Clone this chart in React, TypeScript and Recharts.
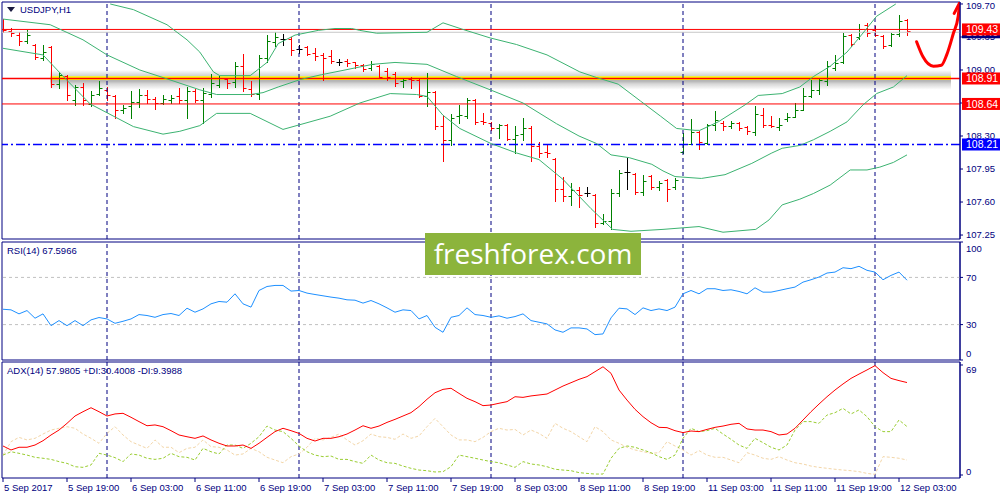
import React from 'react'
import {
  ComposedChart,
  LineChart,
  Line,
  Bar,
  XAxis,
  YAxis,
  ReferenceLine,
  ReferenceArea,
} from 'recharts'

const NAVY = '#000080'
const RED = '#ff0000'
const GREEN = '#008000'
const BAND = '#3cb371'
const FONT = '"Liberation Sans", Arial, sans-serif'

// one bar = 8px, bar 0 sits at x=3
const X_DOMAIN: [number, number] = [-0.125, 119.625]
const PRICE_DOMAIN: [number, number] = [107.208, 109.721]
const ADX_DOMAIN: [number, number] = [-1.88, 70.88]

const timeTicks = [0, 8, 16, 24, 32, 40, 48, 56, 64, 72, 80, 88, 96, 104, 112]
const timeLabels = [
  '5 Sep 2017', '5 Sep 19:00', '6 Sep 03:00', '6 Sep 11:00', '6 Sep 19:00',
  '7 Sep 03:00', '7 Sep 11:00', '7 Sep 19:00', '8 Sep 03:00', '8 Sep 11:00',
  '8 Sep 19:00', '11 Sep 03:00', '11 Sep 11:00', '11 Sep 19:00', '12 Sep 03:00',
]
const daySeparators = [13, 37, 61, 85, 109]
const priceTicks = [107.25, 107.6, 107.95, 108.3, 108.65, 109.0, 109.35, 109.7]
const rsiTicks = [0, 30, 70, 100]
const adxTicks = [0, 69]

// horizontal levels drawn on the chart, with their tags on the price scale
const bidPrice = 109.4
const levelPrices = [109.43, 108.91, 108.64]
const supportPrice = 108.21

// USDJPY H1 bars: [open, high, low, close]
const bars: [number, number, number, number][] = [
  [109.43, 109.54, 109.40, 109.42], [109.41, 109.45, 109.36, 109.39], [109.37, 109.40, 109.26, 109.31],
  [109.31, 109.42, 109.29, 109.37], [109.27, 109.28, 109.12, 109.14], [109.13, 109.26, 109.11, 109.19],
  [109.24, 109.25, 108.82, 108.85], [108.85, 108.98, 108.81, 108.95], [108.94, 108.95, 108.68, 108.74],
  [108.68, 108.84, 108.63, 108.82], [108.82, 108.86, 108.63, 108.68], [108.64, 108.78, 108.62, 108.74],
  [108.75, 108.88, 108.74, 108.81], [108.79, 108.82, 108.68, 108.73], [108.72, 108.74, 108.49, 108.58],
  [108.58, 108.63, 108.54, 108.60], [108.62, 108.78, 108.49, 108.66], [108.66, 108.80, 108.61, 108.74],
  [108.74, 108.79, 108.65, 108.69], [108.69, 108.71, 108.59, 108.65], [108.65, 108.73, 108.64, 108.69],
  [108.68, 108.73, 108.65, 108.70], [108.72, 108.81, 108.65, 108.68], [108.68, 108.82, 108.49, 108.78],
  [108.78, 108.80, 108.66, 108.68], [108.68, 108.81, 108.44, 108.76], [108.75, 108.96, 108.71, 108.86],
  [108.84, 108.94, 108.82, 108.91], [108.90, 108.91, 108.81, 108.86], [108.87, 109.09, 108.82, 109.04],
  [109.04, 109.17, 108.78, 108.81], [108.80, 108.88, 108.72, 108.75], [108.75, 109.16, 108.69, 109.13],
  [109.13, 109.37, 109.09, 109.31], [109.30, 109.40, 109.25, 109.35], [109.33, 109.38, 109.27, 109.33],
  [109.33, 109.35, 109.16, 109.21], [109.22, 109.27, 109.18, 109.22], [109.24, 109.25, 109.16, 109.17],
  [109.18, 109.23, 109.11, 109.15], [109.16, 109.18, 108.89, 109.13], [109.15, 109.21, 109.07, 109.10],
  [109.09, 109.12, 109.05, 109.09], [109.10, 109.12, 109.04, 109.07], [109.08, 109.09, 109.02, 109.05],
  [109.05, 109.06, 108.99, 109.01], [109.02, 109.10, 109.00, 109.06], [109.04, 109.05, 108.91, 108.93],
  [108.99, 109.02, 108.89, 108.93], [108.96, 108.98, 108.83, 108.86], [108.88, 108.92, 108.82, 108.89],
  [108.90, 108.93, 108.81, 108.89], [108.89, 108.91, 108.71, 108.72], [108.72, 108.97, 108.62, 108.77],
  [108.77, 108.78, 108.37, 108.41], [108.41, 108.52, 108.04, 108.26], [108.26, 108.53, 108.20, 108.49],
  [108.51, 108.63, 108.44, 108.52], [108.51, 108.70, 108.49, 108.68], [108.68, 108.69, 108.43, 108.45],
  [108.46, 108.54, 108.43, 108.45], [108.44, 108.45, 108.36, 108.38], [108.38, 108.43, 108.28, 108.42],
  [108.42, 108.43, 108.26, 108.27], [108.27, 108.41, 108.12, 108.31], [108.32, 108.49, 108.26, 108.38],
  [108.39, 108.41, 108.04, 108.19], [108.19, 108.24, 108.08, 108.12], [108.13, 108.22, 108.08, 108.12],
  [108.06, 108.07, 107.61, 107.74], [107.74, 107.87, 107.61, 107.66], [107.66, 107.80, 107.57, 107.73],
  [107.73, 107.76, 107.55, 107.67], [107.70, 107.76, 107.66, 107.70], [107.67, 107.68, 107.34, 107.38],
  [107.38, 107.47, 107.37, 107.40], [107.40, 107.74, 107.31, 107.70], [107.70, 107.94, 107.66, 107.91],
  [107.92, 108.07, 107.74, 107.92], [107.90, 107.91, 107.68, 107.71], [107.71, 107.89, 107.67, 107.82],
  [107.88, 107.89, 107.74, 107.76], [107.76, 107.82, 107.73, 107.80], [107.83, 107.84, 107.61, 107.74],
  [107.76, 107.85, 107.74, 107.83], [108.13, 108.33, 108.12, 108.22], [108.22, 108.48, 108.22, 108.34],
  [108.34, 108.35, 108.16, 108.24], [108.23, 108.43, 108.22, 108.42], [108.42, 108.56, 108.36, 108.47],
  [108.44, 108.46, 108.36, 108.41], [108.41, 108.46, 108.38, 108.44], [108.44, 108.45, 108.36, 108.38],
  [108.40, 108.41, 108.32, 108.35], [108.34, 108.62, 108.31, 108.53], [108.52, 108.60, 108.40, 108.42],
  [108.42, 108.51, 108.40, 108.41], [108.40, 108.49, 108.36, 108.42], [108.48, 108.54, 108.46, 108.50],
  [108.50, 108.65, 108.50, 108.58], [108.58, 108.81, 108.58, 108.72], [108.72, 108.89, 108.71, 108.79],
  [108.79, 108.92, 108.75, 108.89], [108.88, 109.10, 108.84, 109.04], [109.02, 109.16, 109.00, 109.07],
  [109.08, 109.39, 109.07, 109.36], [109.37, 109.38, 109.25, 109.28], [109.35, 109.49, 109.33, 109.44],
  [109.48, 109.50, 109.36, 109.39], [109.42, 109.47, 109.36, 109.37], [109.36, 109.37, 109.23, 109.25],
  [109.26, 109.39, 109.25, 109.38], [109.38, 109.58, 109.36, 109.52], [109.53, 109.54, 109.37, 109.41],
]

// Bollinger bands: [bar index, price]
const bbUpper: [number, number][] = [
  [13.4, 109.70], [16.3, 109.64], [20.5, 109.48], [23, 109.32], [24.6, 109.19], [26.3, 108.98],
  [27.1, 108.94], [30.9, 108.94], [33, 109.08], [34.4, 109.28], [36.5, 109.37], [39.4, 109.42],
  [41.5, 109.44], [43.6, 109.44], [44.6, 109.42], [46.7, 109.39], [53, 109.40], [55, 109.50],
  [57.5, 109.43], [60.9, 109.34], [64.2, 109.27], [68, 109.16], [72.1, 108.98], [74.2, 108.92],
  [76.9, 108.85], [79.7, 108.67], [82.2, 108.51], [84.2, 108.38], [86.5, 108.36], [87.1, 108.36],
  [89.4, 108.45], [92.75, 108.63], [94.4, 108.73], [97.4, 108.75], [99.6, 108.82], [101.3, 108.93],
  [103.4, 109.04], [105.5, 109.19], [107.1, 109.35], [109.2, 109.57], [111.6, 109.70],
]
const bbMiddle: [number, number][] = [
  [0, 109.54], [5.9, 109.48], [10, 109.32], [13, 109.16], [17.1, 109.0], [20, 108.92],
  [24.6, 108.79], [26.7, 108.74], [30.9, 108.74], [32.5, 108.76], [34.4, 108.82], [37.2, 108.9],
  [39.8, 108.95], [42.75, 109.0], [46.2, 109.06], [49, 109.08], [53, 109.06], [56.7, 108.93],
  [60.9, 108.79], [65, 108.65], [69.2, 108.43], [72, 108.3], [74.2, 108.22], [76, 108.1],
  [78.3, 108.07], [81.1, 108.0], [82.5, 107.93], [84, 107.87], [87.3, 107.85], [90.25, 107.89],
  [93.6, 108.01], [96.1, 108.12], [97.4, 108.17], [99.6, 108.2], [101.3, 108.26], [103.4, 108.35],
  [105.5, 108.45], [107.5, 108.63], [109.2, 108.75], [111.3, 108.82], [113, 108.94],
]
const bbLower: [number, number][] = [
  [0, 109.23], [5, 109.16], [8, 108.89], [10.9, 108.64], [16.3, 108.4], [20, 108.32],
  [22.1, 108.35], [24.6, 108.41], [26.7, 108.54], [30.9, 108.54], [35, 108.37], [40.9, 108.51],
  [44.6, 108.65], [48.4, 108.75], [51.7, 108.74], [53, 108.72], [55, 108.52], [57.1, 108.38],
  [61, 108.22], [64.2, 108.12], [67, 108.05], [70, 107.84], [73.5, 107.53], [76.2, 107.31],
  [78.5, 107.29], [82.5, 107.31], [87, 107.34], [90, 107.28], [94.1, 107.31], [95.75, 107.41],
  [97.4, 107.57], [99.6, 107.63], [101.3, 107.69], [103.4, 107.78], [105.9, 107.94], [108, 107.94],
  [109.6, 107.97], [111.3, 108.02], [113, 108.1],
]

// hand drawn forecast arrow
const arrowPath: [number, number][] = [
  [114.2, 109.30], [115.0, 109.14], [116.3, 109.04], [117.3, 109.05], [117.96, 109.16],
  [118.8, 109.39], [119.4, 109.57], [119.6, 109.71],
]
const arrowHead: [number, number][] = [[118.9, 109.6], [119.6, 109.715]]

const rsi = [
  43.0, 42.5, 39.1, 41.9, 35.4, 39.1, 29.1, 33.4, 29.1, 33.4, 29.1, 34.0, 36.0, 34.8, 31.1, 32.8,
  34.8, 38.5, 37.7, 36.2, 38.5, 39.4, 37.7, 43.9, 40.5, 43.3, 47.6, 49.6, 49.0, 56.1, 47.6, 44.8,
  58.9, 62.3, 63.2, 63.2, 58.4, 58.9, 56.7, 55.5, 54.4, 53.3, 52.4, 51.0, 50.7, 48.2, 50.4, 47.6,
  44.2, 40.5, 42.5, 41.9, 34.8, 37.7, 27.7, 23.5, 36.2, 37.7, 44.2, 38.5, 37.7, 36.2, 37.4, 35.4,
  36.8, 39.1, 33.4, 32.0, 30.6, 25.5, 23.5, 27.2, 27.2, 26.3, 21.5, 22.1, 35.7, 43.9, 43.3, 38.5,
  44.2, 41.9, 43.3, 41.9, 44.8, 56.1, 58.9, 56.1, 60.4, 60.4, 58.9, 59.5, 58.1, 56.1, 61.2, 57.5,
  57.5, 58.9, 60.4, 61.8, 66.0, 68.0, 70.3, 73.7, 74.5, 78.2, 77.4, 79.4, 76.0, 74.5, 68.0, 71.7,
  74.5, 67.6,
]

const adx = [
  18.2, 15.7, 17.4, 17.4, 18.8, 21.5, 25.1, 28.2, 32.4, 37.0, 39.7, 42.2, 39.7, 37.0, 38.3, 38.7,
  36.2, 33.5, 30.9, 31.4, 30.3, 27.8, 25.1, 24.0, 23.0, 24.5, 22.0, 19.9, 18.2, 18.2, 18.8, 16.7,
  19.9, 23.6, 27.2, 29.3, 27.8, 26.1, 23.0, 21.3, 23.0, 23.0, 24.0, 25.7, 28.2, 30.9, 29.3, 30.7,
  33.0, 34.9, 37.0, 39.1, 42.9, 47.5, 51.6, 53.7, 54.4, 51.2, 48.1, 46.0, 43.5, 43.9, 45.0, 46.0,
  49.1, 48.7, 49.6, 50.2, 50.8, 53.3, 55.8, 57.9, 60.0, 61.7, 64.8, 67.9, 63.8, 53.3, 47.0, 41.2,
  36.6, 32.8, 29.9, 29.7, 27.8, 26.6, 27.6, 27.2, 28.6, 29.9, 30.7, 31.8, 32.4, 28.9, 28.2, 28.2,
  27.2, 25.1, 25.7, 29.3, 34.5, 39.7, 44.5, 49.1, 53.3, 57.1, 60.6, 63.3, 65.9, 68.6, 64.2, 60.6,
  59.2, 58.0,
]
const plusDi = [
  12.5, 14.6, 13.6, 12.5, 11.1, 10.5, 9.8, 8.4, 7.3, 5.2, 4.8, 6.3, 13.6, 12.5, 10.9, 8.4,
  13.2, 12.5, 10.5, 9.8, 10.5, 13.6, 11.5, 11.1, 9.4, 16.7, 14.6, 13.2, 18.8, 18.8, 16.7, 19.9,
  24.0, 30.7, 28.2, 27.2, 23.0, 18.2, 14.6, 12.5, 11.5, 11.9, 9.8, 9.8, 8.4, 7.3, 12.5, 9.4,
  7.7, 7.3, 5.6, 4.2, 3.1, 2.7, 1.9, 2.1, 5.2, 12.5, 11.5, 10.5, 9.4, 8.4, 7.7, 6.3,
  4.8, 8.4, 6.9, 6.3, 5.2, 3.6, 3.1, 2.7, 1.5, 1.0, 0.6, 0.6, 10.5, 16.7, 18.2, 17.4,
  15.7, 14.0, 11.5, 9.8, 12.5, 23.0, 29.3, 27.2, 27.8, 29.3, 25.7, 22.4, 18.8, 16.7, 23.0, 20.3,
  17.4, 15.7, 18.8, 28.2, 33.5, 33.5, 32.4, 37.6, 39.1, 41.8, 38.3, 40.8, 36.6, 30.3, 27.2, 27.2,
  34.5, 30.4,
]
const minusDi = [
  12.5, 20.9, 23.6, 22.0, 23.0, 25.7, 28.2, 29.3, 30.3, 29.3, 25.7, 23.0, 19.9, 26.1, 30.3, 25.1,
  20.9, 18.8, 16.7, 22.0, 17.4, 17.4, 14.0, 16.7, 17.4, 22.0, 17.8, 17.4, 15.7, 12.5, 13.2, 16.7,
  14.6, 11.1, 9.4, 7.7, 11.5, 13.2, 17.4, 23.0, 22.0, 23.6, 25.7, 22.0, 18.8, 21.5, 25.7, 24.0,
  23.6, 22.4, 25.7, 23.0, 24.5, 30.3, 35.5, 30.3, 25.1, 22.0, 22.0, 20.9, 23.6, 27.2, 29.3, 28.2,
  28.6, 25.1, 28.2, 26.1, 23.0, 32.4, 29.3, 27.2, 24.0, 20.9, 30.3, 27.2, 22.0, 19.9, 17.4, 15.7,
  14.6, 13.6, 14.0, 20.9, 18.2, 15.7, 12.5, 15.3, 12.5, 11.1, 11.1, 9.4, 7.7, 14.0, 12.5, 10.5,
  9.8, 11.5, 9.4, 7.7, 6.9, 5.6, 4.8, 4.2, 3.6, 3.1, 2.7, 2.1, 1.0, 0.4, 11.5, 11.1,
  10.5, 9.4,
]

const barData = bars.map(([o, h, l, c], i) => ({ i, o, h, l, c }))
const toPoints = (arr: [number, number][]) => arr.map(([i, v]) => ({ i, v }))
const rsiData = rsi.map((v, i) => ({ i, v }))
const adxData = adx.map((v, i) => ({ i, adx: v, pdi: plusDi[i], mdi: minusDi[i] }))

function OhlcBar(props: any) {
  const { x, y, width, height, payload } = props
  if (!payload || payload.h === payload.l) return null
  const top = Math.min(y, y + height)
  const span = Math.abs(height)
  const py = (p: number) => Math.round(top + ((payload.h - p) / (payload.h - payload.l)) * span) + 0.5
  const cx = Math.round(x + width / 2) + 0.5
  const color = payload.c > payload.o ? GREEN : payload.c < payload.o ? RED : '#000000'
  return (
    <g stroke={color} strokeWidth={1}>
      <line x1={cx} x2={cx} y1={Math.round(top)} y2={Math.round(top + span) + 1} />
      <line x1={cx - 3} x2={cx} y1={py(payload.o)} y2={py(payload.o)} />
      <line x1={cx} x2={cx + 3} y1={py(payload.c)} y2={py(payload.c)} />
    </g>
  )
}

function PriceTag(props: any) {
  const { viewBox, text, bg } = props
  if (!viewBox) return null
  const x = viewBox.x + viewBox.width + 2
  const y = viewBox.y
  return (
    <g>
      <rect x={x} y={y - 6} width={40} height={12} fill={bg} />
      <text x={x + 4} y={y} dy="0.36em" fill="#ffffff" fontSize={10.5} fontFamily={FONT}>
        {text}
      </text>
    </g>
  )
}

function SideTick(props: any) {
  const { x, y, payload, digits = 0, shifts = {} } = props
  const dy = shifts[payload.value] ?? 0
  return (
    <text x={x} y={y + dy} dy="0.36em" textAnchor="start" fill={NAVY} fontSize={9.5} fontFamily={FONT}>
      {Number(payload.value).toFixed(digits)}
    </text>
  )
}

function TimeTick(props: any) {
  const { x, y, payload } = props
  const label = timeLabels[timeTicks.indexOf(payload.value)]
  return (
    <text x={x + 1} y={y} dy="0.75em" textAnchor="start" fill={NAVY} fontSize={9.5} fontFamily={FONT}>
      {label}
    </text>
  )
}

function daySeparatorLines(prefix: string) {
  return daySeparators.map((d) => (
    <ReferenceLine key={prefix + d} x={d} stroke={NAVY} strokeDasharray="4 3" />
  ))
}

const titleStyle: React.CSSProperties = {
  position: 'absolute',
  left: 7,
  fontFamily: FONT,
  fontSize: 9.5,
  color: NAVY,
  whiteSpace: 'nowrap',
  lineHeight: '12px',
}

const mainMargin = { top: 2, right: 0, bottom: 1, left: 2 }

export default function App() {
  return (
    <div style={{ position: 'absolute', left: 0, top: 0, width: 1000, height: 500, background: '#fff', overflow: 'hidden' }}>
      <div style={{ position: 'absolute', left: 0, top: 0 }}>
        <ComposedChart width={1000} height={240} data={barData} margin={mainMargin}>
          <defs>
            <linearGradient id="bandShadow" x1="0" y1="0" x2="0" y2="1">
              <stop offset="0%" stopColor="#000" stopOpacity={0} />
              <stop offset="30%" stopColor="#000" stopOpacity={0.18} />
              <stop offset="55%" stopColor="#000" stopOpacity={0.3} />
              <stop offset="70%" stopColor="#000" stopOpacity={0.16} />
              <stop offset="100%" stopColor="#000" stopOpacity={0} />
            </linearGradient>
          </defs>
          <XAxis type="number" dataKey="i" domain={X_DOMAIN} allowDataOverflow hide />
          <YAxis
            type="number"
            orientation="right"
            width={40}
            domain={PRICE_DOMAIN}
            allowDataOverflow
            ticks={priceTicks}
            interval={0}
            tickSize={3}
            tickMargin={3}
            axisLine={{ stroke: NAVY }}
            tickLine={{ stroke: NAVY }}
            tick={<SideTick digits={2} shifts={{ 109.7: 1.5 }} />}
          />
          <ReferenceArea
            x1={X_DOMAIN[0]} x2={X_DOMAIN[1]} y1={PRICE_DOMAIN[0]} y2={PRICE_DOMAIN[1]}
            fill="none" stroke={NAVY} ifOverflow="visible"
          />
          <ReferenceArea x1={5.9} x2={118.5} y1={108.79} y2={109.0} fill="url(#bandShadow)" fillOpacity={1} stroke="none" />
          <ReferenceArea x1={5.9} x2={118.5} y1={108.895} y2={108.935} fill="#ffff00" fillOpacity={1} stroke="none" />
          {daySeparatorLines('m')}
          <ReferenceLine y={bidPrice} stroke="#c8c8c8" />
          {levelPrices.map((p) => (
            <ReferenceLine key={p} y={p} stroke={RED} strokeWidth={p === 108.91 ? 1.5 : 1} />
          ))}
          <ReferenceLine y={supportPrice} stroke="#0000ff" strokeWidth={1.5} strokeDasharray="9 3 2 3" />
          <Line data={toPoints(bbUpper)} dataKey="v" stroke={BAND} strokeWidth={1} dot={false} isAnimationActive={false} />
          <Line data={toPoints(bbMiddle)} dataKey="v" stroke={BAND} strokeWidth={1} dot={false} isAnimationActive={false} />
          <Line data={toPoints(bbLower)} dataKey="v" stroke={BAND} strokeWidth={1} dot={false} isAnimationActive={false} />
          <Bar
            dataKey={(d: any) => [d.l, d.h]}
            barSize={7}
            shape={<OhlcBar />}
            isAnimationActive={false}
          />
          <Line
            data={toPoints(arrowPath)}
            dataKey="v"
            type="monotone"
            stroke={RED}
            strokeWidth={3}
            strokeLinecap="round"
            dot={false}
            isAnimationActive={false}
          />
          <Line
            data={toPoints(arrowHead)}
            dataKey="v"
            stroke={RED}
            strokeWidth={3}
            strokeLinecap="round"
            dot={false}
            isAnimationActive={false}
          />
        </ComposedChart>
      </div>

      <div style={{ position: 'absolute', left: 0, top: 240 }}>
        <LineChart width={1000} height={122} data={rsiData} margin={{ top: 2, right: 0, bottom: 2, left: 2 }}>
          <XAxis type="number" dataKey="i" domain={X_DOMAIN} allowDataOverflow hide />
          <YAxis
            type="number"
            orientation="right"
            width={40}
            domain={[0, 100]}
            allowDataOverflow
            ticks={rsiTicks}
            interval={0}
            tickSize={3}
            tickMargin={3}
            axisLine={{ stroke: NAVY }}
            tickLine={{ stroke: NAVY }}
            tick={<SideTick shifts={{ 100: 7, 0: -6 }} />}
          />
          <ReferenceArea x1={X_DOMAIN[0]} x2={X_DOMAIN[1]} y1={0} y2={100} fill="none" stroke={NAVY} ifOverflow="visible" />
          <ReferenceLine y={70} stroke="#c0c0c0" strokeDasharray="3 3" />
          <ReferenceLine y={30} stroke="#c0c0c0" strokeDasharray="3 3" />
          {daySeparatorLines('r')}
          <Line dataKey="v" stroke="#1e90ff" strokeWidth={1} dot={false} isAnimationActive={false} />
        </LineChart>
      </div>

      <div style={{ position: 'absolute', left: 0, top: 360 }}>
        <LineChart width={1000} height={140} data={adxData} margin={{ top: 2, right: 0, bottom: 0, left: 2 }}>
          <XAxis
            type="number"
            dataKey="i"
            domain={X_DOMAIN}
            allowDataOverflow
            ticks={timeTicks}
            interval={0}
            height={22}
            axisLine={false}
            tickSize={4}
            tickMargin={2}
            tickLine={{ stroke: NAVY }}
            tick={<TimeTick />}
          />
          <YAxis
            type="number"
            orientation="right"
            width={40}
            domain={ADX_DOMAIN}
            allowDataOverflow
            ticks={adxTicks}
            interval={0}
            tickSize={3}
            tickMargin={3}
            axisLine={{ stroke: NAVY }}
            tickLine={{ stroke: NAVY }}
            tick={<SideTick shifts={{ 69: 5, 0: -3 }} />}
          />
          <ReferenceArea
            x1={X_DOMAIN[0]} x2={X_DOMAIN[1]} y1={ADX_DOMAIN[0]} y2={ADX_DOMAIN[1]}
            fill="none" stroke={NAVY} ifOverflow="visible"
          />
          {daySeparatorLines('a')}
          <Line dataKey="mdi" stroke="#f3d6a8" strokeWidth={1} strokeDasharray="3 2" dot={false} isAnimationActive={false} />
          <Line dataKey="pdi" stroke="#9acd32" strokeWidth={1} strokeDasharray="3 2" dot={false} isAnimationActive={false} />
          <Line dataKey="adx" stroke={RED} strokeWidth={1} dot={false} isAnimationActive={false} />
        </LineChart>
      </div>

      {/* price tags sit on top of the axis labels, as in the terminal */}
      <div style={{ position: 'absolute', left: 0, top: 0, pointerEvents: 'none' }}>
        <ComposedChart width={1000} height={240} data={barData} margin={mainMargin}>
          <XAxis type="number" dataKey="i" domain={X_DOMAIN} allowDataOverflow hide />
          <YAxis
            type="number"
            orientation="right"
            width={40}
            domain={PRICE_DOMAIN}
            allowDataOverflow
            tick={false}
            axisLine={false}
            tickLine={false}
          />
          <ReferenceLine y={bidPrice} stroke="none" label={<PriceTag text={bidPrice.toFixed(2)} bg={NAVY} />} />
          {levelPrices.map((p) => (
            <ReferenceLine key={p} y={p} stroke="none" label={<PriceTag text={p.toFixed(2)} bg={RED} />} />
          ))}
          <ReferenceLine y={supportPrice} stroke="none" label={<PriceTag text={supportPrice.toFixed(2)} bg="#0000ff" />} />
        </ComposedChart>
      </div>

      <div style={{ ...titleStyle, top: 4 }}>
        <svg width={8} height={6} style={{ marginRight: 5, verticalAlign: 'middle' }}>
          <polygon points="0,0 8,0 4,5" fill="#1a1a40" />
        </svg>
        USDJPY,H1
      </div>
      <div style={{ ...titleStyle, top: 245 }}>RSI(14) 67.5966</div>
      <div style={{ ...titleStyle, top: 365 }}>ADX(14) 57.9805 +DI:30.4008 -DI:9.3988</div>

      <div
        style={{
          position: 'absolute',
          left: 425,
          top: 233,
          width: 216,
          height: 42,
          background: '#8cb43c',
          color: '#ffffff',
          fontFamily: '"Open Sans", "Noto Sans", sans-serif',
          fontSize: 28,
          lineHeight: '40px',
          textAlign: 'center',
        }}
      >
        freshforex.com
      </div>
    </div>
  )
}
